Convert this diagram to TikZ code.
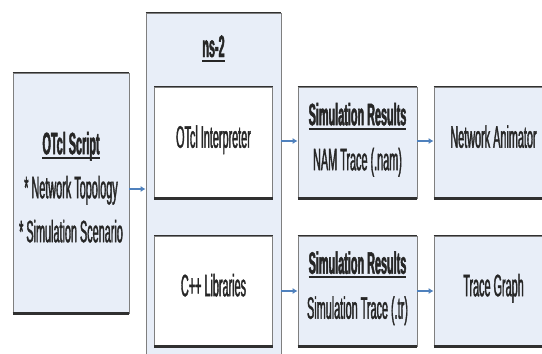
\documentclass[tikz,border=0pt]{standalone}
\usepackage{fontspec}
\setmainfont{Liberation Sans}[FakeStretch=0.35, UprightFeatures={FakeBold=1.2}, BoldFeatures={FakeBold=1.5}]
\usetikzlibrary{arrows.meta}
\definecolor{boxfill}{HTML}{E8EEF8}
\definecolor{boxedge}{HTML}{7F7F7F}
\definecolor{darkedge}{HTML}{303030}
\definecolor{arrowblue}{HTML}{4F81BD}
\newcommand\myul[1]{\setbox0\hbox{#1}\rlap{\rule[-4.5pt]{\wd0}{1.8pt}}\box0}
\tikzset{
  boxnode/.style={draw=boxedge, line width=0.8pt, fill=boxfill, inner sep=0pt,
    align=center, text=black!85, font=\fontsize{31}{45}\selectfont,
    text depth=12pt},
  whitebox/.style={boxnode, fill=white},
  flow/.style={draw=arrowblue, line width=1.6pt, -{Latex[length=5pt,width=6pt]}},
  topedge/.style={draw=darkedge, line width=1.6pt},
  botedge/.style={draw=darkedge, line width=2.6pt},
}
\begin{document}
\begin{tikzpicture}[x=1pt,y=-1pt]
\useasboundingbox (0,0) rectangle (542,354);
\fill[white] (0,0) rectangle (542,354);
\clip (0,0) rectangle (542,354);

\node[boxnode, minimum width=116pt, minimum height=240pt, font=\fontsize{31}{44}\selectfont] (script) at (71,193)
  {\textbf{\myul{OTcl Script}}\\* Network Topology\\* Simulation Scenario};
\node[boxnode, minimum width=135pt, minimum height=347pt] (ns2) at (213.5,186.5) {};
\node[font=\fontsize{31}{45}\selectfont\bfseries, text=black!85, inner sep=0pt, anchor=base] (ns2label) at (213.5,57) {\myul{ns-2}};
\node[whitebox, minimum width=118pt, minimum height=111pt] (interp) at (213.5,142.5) {OTcl Interpreter};
\node[whitebox, minimum width=118pt, minimum height=110pt] (cpp) at (213.5,291) {C++ Libraries};
\node[boxnode, minimum width=119pt, minimum height=111pt] (sim1) at (357.5,142.5)
  {\textbf{\myul{Simulation Results}}\\NAM Trace (.nam)};
\node[boxnode, minimum width=119pt, minimum height=110pt] (sim2) at (357.5,291)
  {\textbf{\myul{Simulation Results}}\\Simulation Trace (.tr)};
\node[boxnode, minimum width=119pt, minimum height=111pt] (nam) at (493.5,142.5) {Network Animator};
\node[boxnode, minimum width=119pt, minimum height=110pt] (tg) at (493.5,291) {Trace Graph};

\foreach \n in {script,ns2,interp,cpp,sim1,sim2,nam,tg}{
  \draw[topedge] (\n.north west) -- (\n.north east);
  \draw[botedge] (\n.south west) -- (\n.south east);
}

\draw[flow] ([yshift=4pt]script.east) -- ([yshift=4pt]script.east -| ns2.west);
\draw[flow] ([yshift=1.5pt]interp.east -| ns2.east) -- ([yshift=1.5pt]sim1.west);
\draw[flow] (cpp -| ns2.east) -- (sim2.west);
\draw[flow] ([yshift=1.5pt]sim1.east) -- ([yshift=1.5pt]nam.west);
\draw[flow] (sim2.east) -- (tg.west);
\end{tikzpicture}
\end{document}
